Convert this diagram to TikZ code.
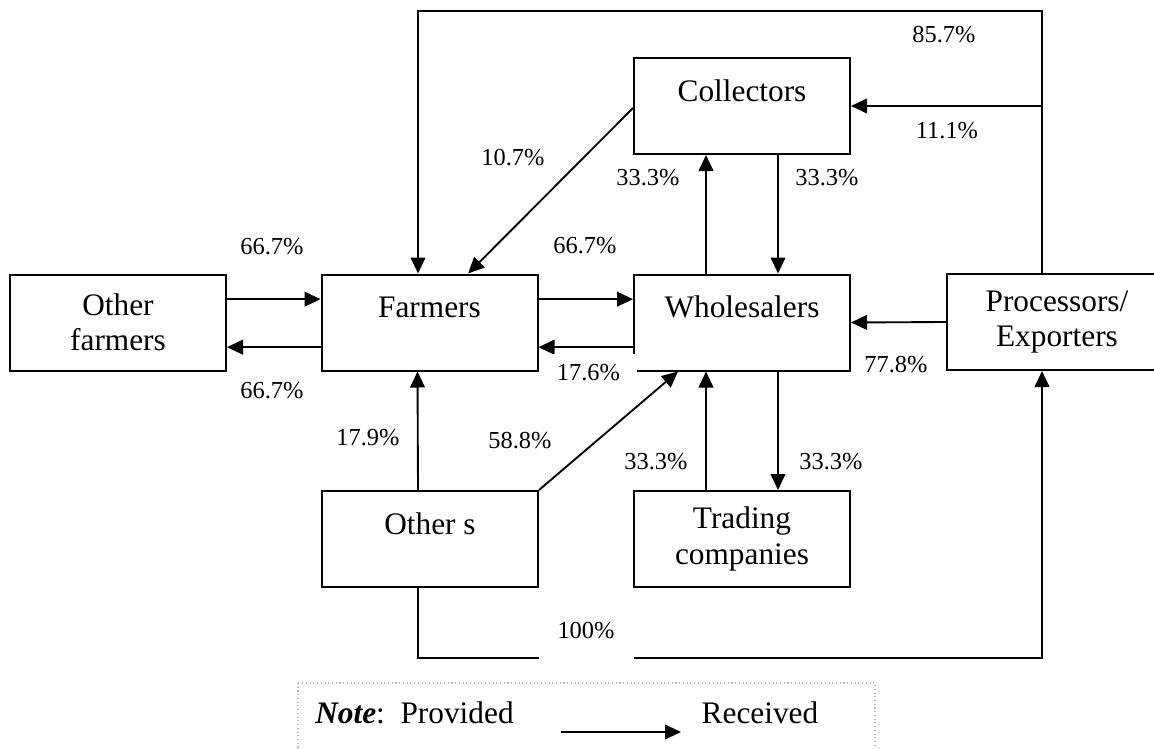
\documentclass[tikz,border=0pt]{standalone}
\usepackage{fontspec}
\setmainfont{Liberation Serif}
\usetikzlibrary{arrows.meta,positioning,calc}

\begin{document}
\begin{tikzpicture}[
	x=0.75pt,y=-0.75pt,
	box/.style={draw,line width=1.5pt,minimum width=162pt,minimum height=72pt,
		inner sep=0pt,align=center,font=\fontsize{23.5}{26.5}\selectfont},
	raised/.style={text depth=23.5pt},
	arr/.style={line width=1.4pt,-{Triangle[length=12pt,width=11pt]}},
	pct/.style={inner sep=0pt,font=\fontsize{18.3}{22}\selectfont},
	mask/.style={pct,fill=white}
	]
	
	\useasboundingbox (0,0) rectangle (1154,749);
	
	% actors
	\node[
	box
	]
	(ofarm)
	at (118,322.5)
	{Other\\farmers};
	
	\node[
	box,
	raised
	]
	(farm)
	at (429.5,322.5)
	{Farmers};
	
	\node[
	box,
	raised
	]
	(whole)
	at (742,322.5)
	{Wholesalers};
	
	\node[
	box,
	raised
	]
	(coll)
	at (742,106)
	{Collectors};
	
	\node[
	box,
	minimum width=165pt
	]
	(proc)
	at (1057,322)
	{Processors/\\Exporters};
	
	\node[
	box,
	raised
	]
	(others)
	at (430,539)
	{Other s};
	
	\node[
	box
	]
	(trade)
	at (742,539)
	{Trading\\companies};
	
	% corners of the two long loops
	\coordinate (ptop) at (1042,11);
	\coordinate (ftop) at (418,11);
	\coordinate (pbot) at (1042,658);
	\coordinate (obot) at (418,658);
	
	% flows
	\draw[arr] ([yshift=17.5pt]ofarm.east) -- ([yshift=17.5pt]farm.west);
	\draw[arr] ([yshift=-18.5pt]farm.west) -- ([yshift=-18.5pt]ofarm.east);
	\draw[arr] ([yshift=17.5pt]farm.east) -- ([yshift=17.5pt]whole.west);
	\draw[arr] ([yshift=-18.5pt]whole.west) -- ([yshift=-18.5pt]farm.east);
	\draw[arr] (proc.west) -- (whole.east);
	\draw[arr] (ptop |- proc.north) -- (ptop) -- (ftop) -- (ftop |- farm.north);
	\draw[arr] (ptop |- coll.east) -- (coll.east);
	\draw[arr] ([yshift=-1.5pt]coll.west) -- ([xshift=29pt]farm.north);
	\draw[arr] ([xshift=-27pt]whole.north) -- ([xshift=-27pt]coll.south);
	\draw[arr] ([xshift=27pt]coll.south) -- ([xshift=27pt]whole.north);
	\draw[arr] ([xshift=-27pt]trade.north) -- ([xshift=-27pt]whole.south);
	\draw[arr] ([xshift=27pt]whole.south) -- ([xshift=27pt]trade.north);
	\draw[arr] ([xshift=-9pt]others.north) -- ([xshift=-9pt]farm.south);
	\draw[arr] (others.north east) -- ([xshift=-48pt]whole.south);
	\draw[arr] (obot |- others.south) -- (obot) -- (pbot) -- (pbot |- proc.south);
	
	% shares
	\node[pct] (pofin) at (272,247) {66.7\%};
	\node[pct] (pofout) at (272,391) {66.7\%};
	\node[pct] (pfw) at (585,246) {66.7\%};
	\node[mask,minimum width=72.75pt,minimum height=28.5pt] (pwf) at (588.5,373) {17.6\%};
	\node[pct] (pcf) at (513,158) {10.7\%};
	\node[pct] (pwc) at (648,178) {33.3\%};
	\node[pct] (pcw) at (827,178) {33.3\%};
	\node[pct] (ppf) at (944,35) {85.7\%};
	\node[pct] (ppc) at (947,131) {11.1\%};
	\node[pct] (ppw) at (896,365) {77.8\%};
	\node[pct] (pof) at (368,438) {17.9\%};
	\node[pct] (pow) at (520,441) {58.8\%};
	\node[pct] (ptw) at (656,462) {33.3\%};
	\node[pct] (pwt) at (831,462) {33.3\%};
	\node[mask,minimum width=71.25pt,minimum height=43.5pt] (pop) at (586,631) {100\%};
	
	% legend
	\draw[gray!60,dotted,line width=0.8pt] (298,683) rectangle (875,775);
	\node[
	anchor=west,
	inner sep=0pt,
	font=\fontsize{23.5}{26.5}\selectfont
	]
	(note)
	at (315,713)
	{\textbf{\textit{Note}}:\ \ Provided};
	
	\node[
	inner sep=0pt,
	font=\fontsize{23.5}{26.5}\selectfont
	]
	(recv)
	at (760,713)
	{Received};
	
	\coordinate (nfrom) at (561,732);
	\coordinate (nto) at (681,732);
	\draw[arr] (nfrom) -- (nto);
	
\end{tikzpicture}
\end{document}
